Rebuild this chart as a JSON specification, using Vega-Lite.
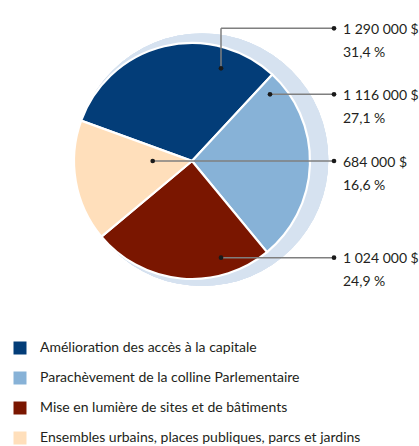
{
  "$schema": "https://vega.github.io/schema/vega-lite/v6.json",
  "width": 419,
  "height": 446,
  "autosize": {"type": "none"},
  "padding": 0,
  "background": "white",
  "config": {
    "view": {"stroke": null},
    "font": "Lato",
    "legend": {
      "orient": "none",
      "legendX": 13,
      "legendY": 341,
      "padding": 0,
      "symbolType": "square",
      "symbolSize": 169,
      "symbolStrokeWidth": 0,
      "symbolOpacity": 1,
      "labelFont": "Lato",
      "labelFontSize": 14,
      "labelColor": "#231f20",
      "labelOffset": 13,
      "rowPadding": 16,
      "labelLimit": 400
    }
  },
  "data": {
    "values": [
      {"categorie": "Amélioration des accès à la capitale", "montant": 1290000, "montant_txt": "1 290 000 $", "pct_txt": "31,4 %", "x_ancre": 29, "y_ancre": -92.7, "y_etiq": -132.7},
      {"categorie": "Parachèvement de la colline Parlementaire", "montant": 1116000, "montant_txt": "1 116 000 $", "pct_txt": "27,1 %", "x_ancre": 78, "y_ancre": -66.7, "y_etiq": -66.7},
      {"categorie": "Mise en lumière de sites et de bâtiments", "montant": 1024000, "montant_txt": "1 024 000 $", "pct_txt": "24,9 %", "x_ancre": 29, "y_ancre": 96.7, "y_etiq": 96.7},
      {"categorie": "Ensembles urbains, places publiques, parcs et jardins", "montant": 684000, "montant_txt": "684 000 $", "pct_txt": "16,6 %", "x_ancre": -39.3, "y_ancre": 0, "y_etiq": 0}
    ]
  },
  "encoding": {},
  "layer": [
    {
      "mark": {"type": "point", "shape": "circle", "filled": true, "size": 63800, "color": "#d6e2f0", "opacity": 1},
      "encoding": {
        "x": {"datum": 10, "type": "quantitative", "scale": {"domain": [-192, 227], "nice": false, "zero": false}, "axis": null},
        "y": {"datum": -1.3, "type": "quantitative", "scale": {"domain": [-161, 285], "nice": false, "zero": false, "reverse": true}, "axis": null}
      }
    },
    {
      "mark": {"type": "arc", "outerRadius": 118, "stroke": "white", "strokeWidth": 2.2},
      "encoding": {
        "x": {"datum": 0, "type": "quantitative"},
        "y": {"datum": 0, "type": "quantitative"},
        "theta": {"field": "montant", "type": "quantitative", "scale": {"range": [-1.2217, 5.0615]}},
        "order": {"field": "montant", "sort": "descending"},
        "color": {
          "field": "categorie",
          "type": "nominal",
          "title": null,
          "scale": {
            "domain": ["Amélioration des accès à la capitale", "Parachèvement de la colline Parlementaire", "Mise en lumière de sites et de bâtiments", "Ensembles urbains, places publiques, parcs et jardins"],
            "range": ["#033d78", "#87b2d7", "#7a1600", "#ffdfbb"]
          }
        }
      }
    },
    {
      "mark": {"type": "rule", "color": "#7f7f7f", "strokeWidth": 1.5},
      "encoding": {
        "x": {"field": "x_ancre", "type": "quantitative"},
        "y": {"field": "y_ancre", "type": "quantitative"},
        "x2": {"field": "x_ancre"},
        "y2": {"field": "y_etiq"}
      }
    },
    {
      "mark": {"type": "rule", "color": "#7f7f7f", "strokeWidth": 1.5},
      "encoding": {
        "x": {"field": "x_ancre", "type": "quantitative"},
        "x2": {"datum": 142},
        "y": {"field": "y_etiq", "type": "quantitative"}
      }
    },
    {
      "mark": {"type": "point", "shape": "circle", "filled": true, "size": 22, "color": "#1a1a1a", "opacity": 1},
      "encoding": {
        "x": {"field": "x_ancre", "type": "quantitative"},
        "y": {"field": "y_ancre", "type": "quantitative"}
      }
    },
    {
      "mark": {"type": "point", "shape": "circle", "filled": true, "size": 22, "color": "#1a1a1a", "opacity": 1},
      "encoding": {
        "x": {"datum": 142, "type": "quantitative"},
        "y": {"field": "y_etiq", "type": "quantitative"}
      }
    },
    {
      "mark": {"type": "text", "align": "left", "baseline": "middle", "fontSize": 14, "color": "#231f20", "dy": 1.5},
      "encoding": {
        "x": {"datum": 151, "type": "quantitative"},
        "y": {"field": "y_etiq", "type": "quantitative"},
        "text": {"field": "montant_txt"}
      }
    },
    {
      "mark": {"type": "text", "align": "left", "baseline": "middle", "fontSize": 14, "color": "#231f20", "dy": 24.5},
      "encoding": {
        "x": {"datum": 151, "type": "quantitative"},
        "y": {"field": "y_etiq", "type": "quantitative"},
        "text": {"field": "pct_txt"}
      }
    }
  ]
}
